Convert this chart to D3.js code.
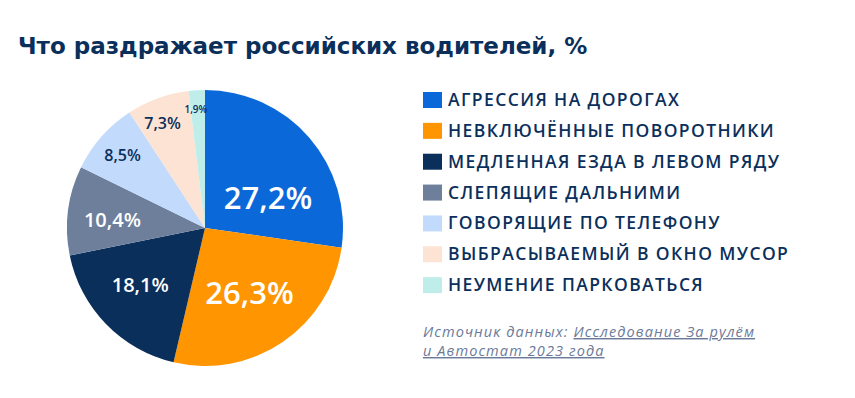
<!DOCTYPE html>
<html>
<head>
<meta charset="utf-8">
<script src="https://cdn.jsdelivr.net/npm/d3@7"></script>
<style>
  body { margin: 0; background: #fff; }
  text { font-family: "Open Sans", "Noto Sans", sans-serif; }
  .wide { font-family: "DejaVu Sans", sans-serif; }
</style>
</head>
<body>
<svg id="chart" width="855" height="398"></svg>
<script>
const width = 855;
const height = 398;

// chart data
const categories = [
    "АГРЕССИЯ НА ДОРОГАХ",
    "НЕВКЛЮЧЁННЫЕ ПОВОРОТНИКИ",
    "МЕДЛЕННАЯ ЕЗДА В ЛЕВОМ РЯДУ",
    "СЛЕПЯЩИЕ ДАЛЬНИМИ",
    "ГОВОРЯЩИЕ ПО ТЕЛЕФОНУ",
    "ВЫБРАСЫВАЕМЫЙ В ОКНО МУСОР",
    "НЕУМЕНИЕ ПАРКОВАТЬСЯ"
];
const values = [27.2, 26.3, 18.1, 10.4, 8.5, 7.3, 1.9];
const labels = ["27,2%", "26,3%", "18,1%", "10,4%", "8,5%", "7,3%", "1,9%"];

// styling
const colors = ["#0a68d8", "#ff9500", "#0b2f5b", "#6e7f9c", "#c2dafb", "#fde3d3", "#bfeeea"];
const labelColors = ["#fff", "#fff", "#fff", "#fff", "#0b2f5b", "#0b2f5b", "#0b2f5b"];
const labelSizes = [31, 31, 20, 20, 16, 16, 10];
const labelRadius = [70, 79, 86, 93, 110, 113, 119];
const labelNudge = [15, 0, 3, -2, 0, -2, -1]; // degrees
const navy = "#0b2f5b";

const svg = d3.select("#chart");

// title
svg.append("text")
    .attr("class", "wide")
    .attr("x", 18)
    .attr("y", 54)
    .style("font-size", "23px")
    .style("font-weight", 700)
    .style("fill", navy)
    .text("Что раздражает российских водителей, %");

// pie
const cx = 205, cy = 228, radius = 138;
const data = categories.map((c, i) => ({ name: c, value: values[i], i: i }));

const pie = d3.pie().sort(null).value(d => d.value);
const arc = d3.arc().innerRadius(0).outerRadius(radius);
const arcs = pie(data);

const g = svg.append("g").attr("transform", `translate(${cx},${cy})`);

g.selectAll("path")
    .data(arcs)
    .enter()
    .append("path")
        .attr("d", arc)
        .attr("fill", d => colors[d.data.i]);

g.selectAll("text.lbl")
    .data(arcs)
    .enter()
    .append("text")
        .attr("class", "lbl")
        .attr("transform", d => {
            const a = (d.startAngle + d.endAngle) / 2 + labelNudge[d.data.i] * Math.PI / 180;
            const r = labelRadius[d.data.i];
            return `translate(${r * Math.sin(a)},${-r * Math.cos(a)})`;
        })
        .attr("text-anchor", "middle")
        .attr("dy", "0.36em")
        .style("font-size", d => labelSizes[d.data.i] + "px")
        .style("font-weight", 600)
        .style("fill", d => labelColors[d.data.i])
        .text(d => labels[d.data.i]);

// legend
const legendY = d3.scaleBand()
    .domain(categories)
    .range([84, 300]);

const legend = svg.append("g");
const item = legend.selectAll("g")
    .data(data)
    .enter()
    .append("g")
        .attr("transform", d => `translate(423,${legendY(d.name)})`);

item.append("rect")
    .attr("y", 8)
    .attr("width", 19)
    .attr("height", 16)
    .attr("fill", d => colors[d.i]);

item.append("text")
    .attr("x", 25)
    .attr("y", 22)
    .style("font-size", "17.5px")
    .style("font-weight", 600)
    .style("letter-spacing", "1.4px")
    .style("fill", navy)
    .text(d => d.name);

// source note
const src = svg.append("text")
    .attr("x", 423)
    .attr("y", 337)
    .style("font-size", "14.5px")
    .style("font-style", "italic")
    .style("letter-spacing", "1.1px")
    .style("fill", "#6b7a99");
src.append("tspan").text("Источник данных: ");
src.append("tspan")
    .style("text-decoration", "underline")
    .text("Исследование За рулём");

svg.append("text")
    .attr("x", 423)
    .attr("y", 356)
    .style("font-size", "14.5px")
    .style("font-style", "italic")
    .style("letter-spacing", "1.1px")
    .style("fill", "#6b7a99")
    .style("text-decoration", "underline")
    .text("и Автостат 2023 года");
</script>
</body>
</html>
